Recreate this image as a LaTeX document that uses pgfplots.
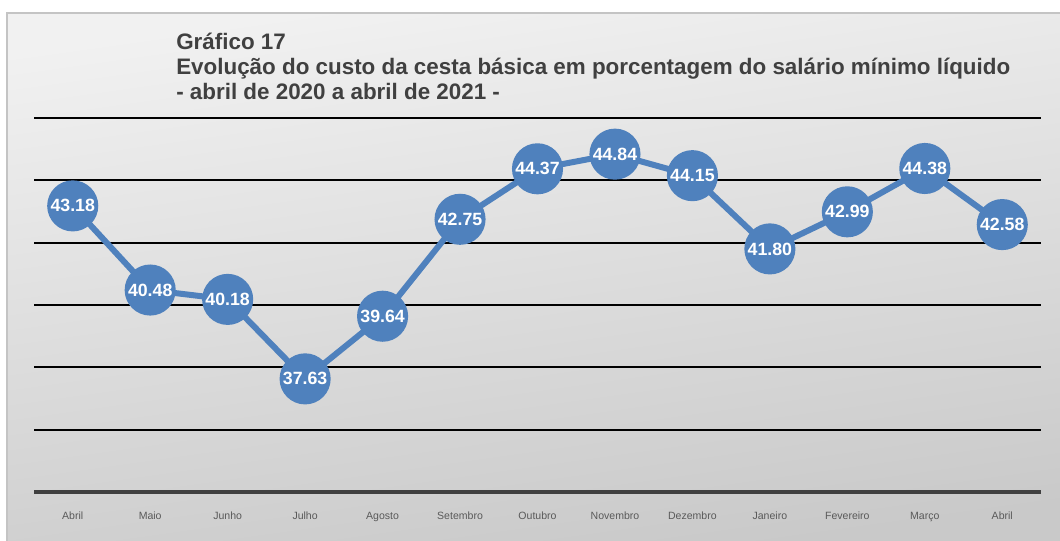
\documentclass[border=0pt]{standalone}
\usepackage{fontspec}
\setmainfont{Liberation Sans}
\usepackage{pgfplots}
\pgfplotsset{compat=1.18}
\definecolor{serie}{HTML}{4F81BD}
\definecolor{titulo}{HTML}{404040}
\definecolor{rotulo}{HTML}{595959}
\definecolor{eixo}{HTML}{404040}
\definecolor{fundoA}{HTML}{F1F1F1}
\definecolor{fundoB}{HTML}{C9C9C9}
\definecolor{borda}{HTML}{C4C4C4}
\begin{document}
\begin{tikzpicture}[x=0.75pt,y=0.75pt]
% pixel grid: 1060 x 540, origin bottom left (y = 540 - pixel row)
\useasboundingbox (0,0) rectangle (1060,540);
\fill[white] (0,0) rectangle (1060,540);
\begin{scope}
\clip (0,0) rectangle (1060,540);
\shade[top color=fundoA, bottom color=fundoB, shading angle=8] (7,-4) rectangle (1064,527);
\draw[borda, line width=1.5pt] (7,-4) rectangle (1064,527);
\end{scope}
\node[anchor=base west, font=\bfseries\fontsize{16.8pt}{19pt}\selectfont, text=titulo, inner sep=0pt] at (176,490) {Gráfico 17};
\node[anchor=base west, font=\bfseries\fontsize{16.8pt}{19pt}\selectfont, text=titulo, inner sep=0pt] at (176,465) {Evolução do custo da cesta básica em porcentagem do salário mínimo líquido};
\node[anchor=base west, font=\bfseries\fontsize{16.8pt}{19pt}\selectfont, text=titulo, inner sep=0pt] at (176,440) {- abril de 2020 a abril de 2021 -};
\coordinate (orig) at (34,48);
\begin{axis}[
  at={(orig)}, anchor=south west,
  scale only axis, width=755.25pt, height=280.5pt,
  xmin=-0.5, xmax=12.5, ymin=34, ymax=46,
  axis line style={draw=none},
  xtick={0,...,12},
  xticklabels={Abril,Maio,Junho,Julho,Agosto,Setembro,Outubro,Novembro,Dezembro,Janeiro,Fevereiro,Março,Abril},
  xticklabel style={font=\fontsize{7.9pt}{9pt}\selectfont, text=rotulo, yshift=-9.5pt,
    text height=1.5ex, text depth=0.4ex},
  ytick={36,38,...,46}, yticklabels={},
  ymajorgrids, grid style={black, line width=1.5pt},
  extra y ticks={34}, extra y tick labels={},
  extra y tick style={grid style={eixo, line width=3pt}},
  major tick length=0pt,
  clip=false,
]
\addplot[serie, line width=4.5pt, mark=*, mark size=16.9pt,
  mark options={fill=serie, draw=none},
  point meta=explicit symbolic,
  nodes near coords,
  every node near coord/.style={anchor=center, text=white, font=\bfseries\fontsize{13.3pt}{15pt}\selectfont, inner sep=0pt},
] coordinates {
  (0,43.18) [43.18]
  (1,40.48) [40.48]
  (2,40.18) [40.18]
  (3,37.63) [37.63]
  (4,39.64) [39.64]
  (5,42.75) [42.75]
  (6,44.37) [44.37]
  (7,44.84) [44.84]
  (8,44.15) [44.15]
  (9,41.80) [41.80]
  (10,42.99) [42.99]
  (11,44.38) [44.38]
  (12,42.58) [42.58]
};
\end{axis}
\end{tikzpicture}
\end{document}
